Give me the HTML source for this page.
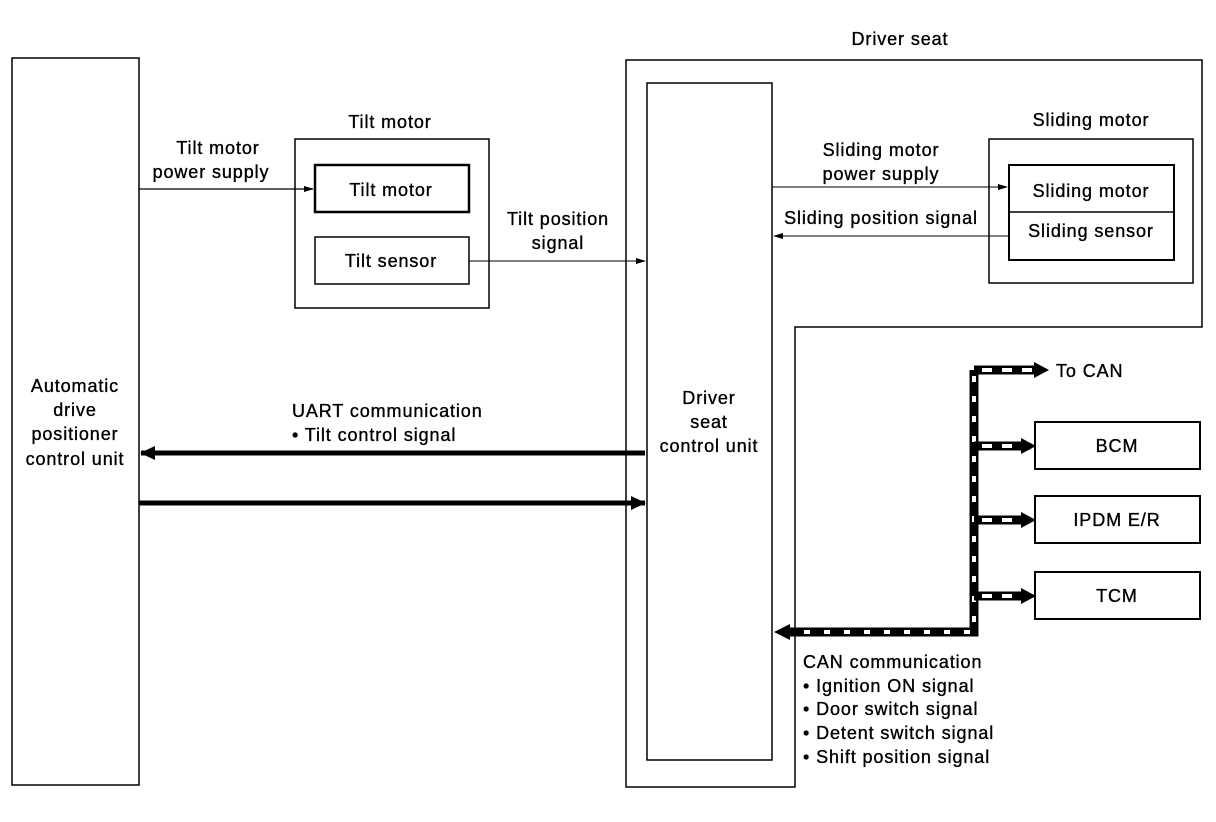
<!DOCTYPE html><html><head><style>body{margin:0;background:#fff}svg{display:block}text{font-family:"Liberation Sans",sans-serif;font-size:18px;letter-spacing:0.9px;fill:#000;stroke:#000;stroke-width:0.35}</style></head><body>
<svg width="1216" height="822" viewBox="0 0 1216 822" xmlns="http://www.w3.org/2000/svg">
<defs>
<marker id="a" markerWidth="10" markerHeight="8" refX="9" refY="4" orient="auto" markerUnits="userSpaceOnUse"><path d="M0,1 L10,4 L0,7z"/></marker>
<marker id="b" markerWidth="16" markerHeight="14" refX="14" refY="7" orient="auto" markerUnits="userSpaceOnUse"><path d="M0,0 L15,7 L0,14z"/></marker>
</defs>
<g fill="none" stroke="#000" stroke-width="1.5">
<rect x="12" y="58" width="127" height="727"/>
<rect x="295" y="139" width="194" height="169"/>
<rect x="315" y="165" width="154" height="47" stroke-width="2.5"/>
<rect x="315" y="237" width="154" height="47"/>
<path d="M626,60 H1202 V327 H795 V787 H626 Z"/>
<rect x="647" y="83" width="125" height="677"/>
<rect x="989" y="139" width="204" height="144"/>
<rect x="1009" y="165" width="165" height="95" stroke-width="2"/>
<line x1="1009" y1="212" x2="1174" y2="212"/>
<rect x="1035" y="422" width="165" height="47" stroke-width="2"/>
<rect x="1035" y="496" width="165" height="47" stroke-width="2"/>
<rect x="1035" y="572" width="165" height="47" stroke-width="2"/>
<line x1="139" y1="189" x2="313" y2="189" stroke-width="1.2" marker-end="url(#a)"/>
<line x1="469" y1="261" x2="645" y2="261" stroke-width="1" marker-end="url(#a)"/>
<line x1="772" y1="187" x2="1007" y2="187" stroke-width="1" marker-end="url(#a)"/>
<line x1="1009" y1="236" x2="774" y2="236" stroke-width="1" marker-end="url(#a)"/>
<line x1="645" y1="453" x2="141" y2="453" stroke-width="5" marker-end="url(#b)"/>
<line x1="139" y1="503" x2="645" y2="503" stroke-width="5" marker-end="url(#b)"/>
</g>
<g fill="none">
<path d="M974,370 V632 H790" stroke="#000" stroke-width="9"/>
<path d="M974,376 V632 H790" stroke="#fff" stroke-width="4" stroke-dasharray="6 14"/>
<path d="M974,370 H1040" stroke="#000" stroke-width="9"/>
<path d="M982,370 H1035" stroke="#fff" stroke-width="4" stroke-dasharray="10 10"/>
<g stroke="#000" stroke-width="9"><path d="M974,446 H1022"/><path d="M974,520 H1022"/><path d="M974,596 H1022"/></g>
<g stroke="#fff" stroke-width="4" stroke-dasharray="10 10"><path d="M982,446 H1020"/><path d="M982,520 H1020"/><path d="M982,596 H1020"/></g>
</g>
<g>
<path d="M1034,362 L1049,370 L1034,378Z"/>
<path d="M1021,438 L1036,446 L1021,454Z"/>
<path d="M1021,512 L1036,520 L1021,528Z"/>
<path d="M1021,588 L1036,596 L1021,604Z"/>
<path d="M774,632 L790,624 L790,640Z"/>
</g>
<g text-anchor="middle">
<text x="900" y="45">Driver seat</text>
<text x="390" y="128">Tilt motor</text>
<text x="391" y="196">Tilt motor</text>
<text x="391" y="267">Tilt sensor</text>
<text x="218" y="154">Tilt motor</text>
<text x="211" y="178">power supply</text>
<text x="558" y="225">Tilt position</text>
<text x="558" y="249">signal</text>
<text x="1091" y="126">Sliding motor</text>
<text x="1091" y="197">Sliding motor</text>
<text x="1091" y="237">Sliding sensor</text>
<text x="881" y="156">Sliding motor</text>
<text x="881" y="180">power supply</text>
<text x="881" y="224">Sliding position signal</text>
<text x="75" y="392">Automatic</text>
<text x="75" y="416">drive</text>
<text x="75" y="440">positioner</text>
<text x="75" y="465">control unit</text>
<text x="709" y="404">Driver</text>
<text x="709" y="428">seat</text>
<text x="709" y="452">control unit</text>
<text x="1117" y="452">BCM</text>
<text x="1117" y="526">IPDM E/R</text>
<text x="1117" y="602">TCM</text>
</g>
<text x="1056" y="377">To CAN</text>
<text x="292" y="417">UART communication</text>
<text x="292" y="441">• Tilt control signal</text>
<text x="803" y="668">CAN communication</text>
<text x="803" y="692">• Ignition ON signal</text>
<text x="803" y="715">• Door switch signal</text>
<text x="803" y="739">• Detent switch signal</text>
<text x="803" y="763">• Shift position signal</text>
</svg></body></html>
